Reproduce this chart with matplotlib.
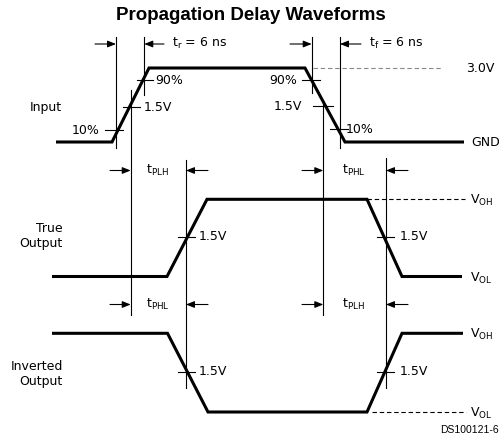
import matplotlib
matplotlib.use("Agg")
import matplotlib.pyplot as plt

plt.rcParams['font.family'] = ['DejaVu Sans']
plt.rcParams['mathtext.default'] = 'regular'

# waveforms: breakpoints in picture units (x right, y down)
inp_x = [56, 112, 149, 305, 345, 464]
inp_y = [142, 142, 68, 68, 142, 142]
true_x = [52, 167, 207, 367, 402, 462]
true_y = [276.5, 276.5, 199.3, 199.3, 276.5, 276.5]
inv_x = [52, 167.5, 208, 367, 402, 463]
inv_y = [333.3, 333.3, 412, 412, 333.3, 333.3]

# thin vertical reference lines (x, top, bottom)
vlines = [(116, 37, 148), (144.3, 37, 95), (130.7, 90, 315),
          (311.7, 37, 93), (340, 37, 148), (323.3, 101, 315),
          (186, 160, 388), (386, 158, 388)]

# crossing ticks (y, x0, x1)
ticks = [(80, 136.7, 153), (107.3, 123, 140), (130, 105, 123),
         (80, 301.7, 320), (106, 313.3, 333.3), (129.3, 330, 348.3),
         (236.7, 178, 195), (236.7, 377, 394),
         (371.7, 178, 195), (371.7, 377, 394)]

# dimension arrows (tail x, head x, y)
arrows = [(95, 116, 44), (164, 144.3, 44), (290, 311.7, 44), (361, 340, 44),
          (110, 130.7, 170.5), (208, 186, 170.5), (302, 323.3, 170.5), (408, 386, 170.5),
          (110, 130.7, 304.5), (208, 186, 304.5), (302, 323.3, 304.5), (408, 386, 304.5)]

# dashed level lines (y, x0, x1, colour)
dashes = [(68, 313, 441, '#888888'), (199.3, 367, 465, 'k'), (412, 372, 466, 'k')]

# labels (x, y, text, ha)
labels = [(155, 80, '90%', 'left'), (144, 107.3, '1.5V', 'left'), (100, 130, '10%', 'right'),
          (297, 80, '90%', 'right'), (302, 106, '1.5V', 'right'), (346, 129.3, '10%', 'left'),
          (172, 43, r'$t_r$ = 6 ns', 'left'), (369, 43, r'$t_f$ = 6 ns', 'left'),
          (466, 68, '3.0V', 'left'), (471, 142, 'GND', 'left'),
          (30, 108, 'Input', 'left'),
          (146, 170, r'$t_{PLH}$', 'left'), (342, 170, r'$t_{PHL}$', 'left'),
          (146, 304, r'$t_{PHL}$', 'left'), (342, 304, r'$t_{PLH}$', 'left'),
          (199, 236.7, '1.5V', 'left'), (400, 236.7, '1.5V', 'left'),
          (199, 371.7, '1.5V', 'left'), (400, 371.7, '1.5V', 'left'),
          (470, 200, r'$V_{OH}$', 'left'), (470, 278, r'$V_{OL}$', 'left'),
          (470, 334, r'$V_{OH}$', 'left'), (470, 413, r'$V_{OL}$', 'left'),
          (63, 236, 'True\nOutput', 'right'), (63, 374, 'Inverted\nOutput', 'right')]

fig = plt.figure(figsize=(5.02, 4.42), dpi=100)
ax = fig.add_axes([0, 0, 1, 1])
ax.set_xlim(0, 502)
ax.set_ylim(442, 0)
ax.axis('off')

for xs, ys in [(inp_x, inp_y), (true_x, true_y), (inv_x, inv_y)]:
    ax.plot(xs, ys, color='k', lw=2.2, solid_joinstyle='miter', solid_capstyle='butt')

for x, y0, y1 in vlines:
    ax.plot([x, x], [y0, y1], color='k', lw=0.8)

for y, x0, x1 in ticks:
    ax.plot([x0, x1], [y, y], color='k', lw=0.8)

for y, x0, x1, c in dashes:
    ax.plot([x0, x1], [y, y], color=c, lw=0.8, dashes=(4, 2.5))

for tx, hx, y in arrows:
    ax.annotate('', xy=(hx, y), xytext=(tx, y),
                arrowprops=dict(arrowstyle='-|>,head_length=0.5,head_width=0.2',
                                lw=0.8, color='k', shrinkA=0, shrinkB=0,
                                mutation_scale=10))

for x, y, s, ha in labels:
    ax.text(x, y, s, ha=ha, va='center', fontsize=9, multialignment=ha)

ax.text(251, 16, 'Propagation Delay Waveforms', ha='center', va='center',
        fontsize=13.5, fontweight='bold', family=['Liberation Sans', 'DejaVu Sans'])
ax.text(499, 430, 'DS100121-6', ha='right', va='center', fontsize=7.5,
        family=['Liberation Sans', 'DejaVu Sans'])

fig.savefig('out.png', dpi=100)
